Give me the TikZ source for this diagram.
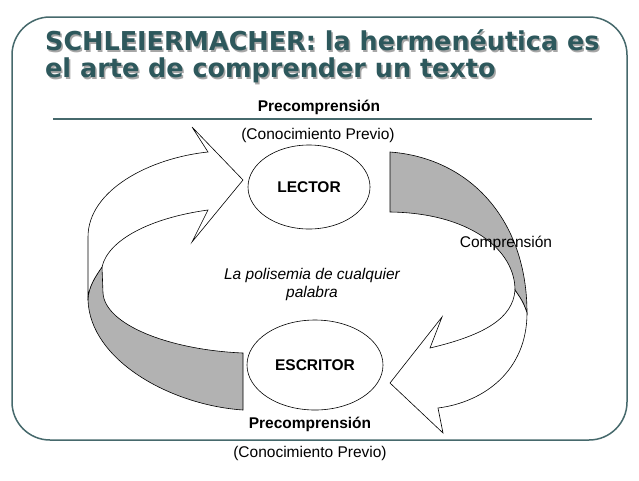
\documentclass[tikz,border=0pt]{standalone}
\usepackage{fontspec}
\usetikzlibrary{shapes.geometric}
\setmainfont{Liberation Sans}
\newfontfamily\titlefont{DejaVu Sans}
\definecolor{teal1}{RGB}{45,88,92}
\definecolor{frame1}{RGB}{70,105,108}
\definecolor{band}{RGB}{178,178,178}
\begin{document}
\begin{tikzpicture}[x=1pt,y=-1pt,
  ttl/.style={font=\titlefont\bfseries\fontsize{26}{30}\selectfont, anchor=west, inner sep=0},
  lbl/.style={font=\fontsize{15.5}{18}\selectfont, inner sep=1pt},
  ell/.style={draw, ellipse, line width=0.6pt, inner sep=0, font=\bfseries\fontsize{15.5}{18}\selectfont},
  rib/.style={draw, line width=0.6pt, line join=miter}]
\useasboundingbox (0,0) rectangle (639,480);
\fill[white] (0,0) rectangle (639,480);
\draw[frame1, line width=1.5pt, rounded corners=38pt] (12,17) rectangle (627,440);
% title
\node[ttl, gray!70, xscale=0.98] (t1s) at (46.5,42) {SCHLEIERMACHER: la hermenéutica es};
\node[ttl, teal1, xscale=0.98] (t1) at (45,40.5) {SCHLEIERMACHER: la hermenéutica es};
\node[ttl, gray!70, xscale=0.98] (t2s) at (46.5,72) {el arte de comprender un texto};
\node[ttl, teal1, xscale=0.98] (t2) at (45,70.5) {el arte de comprender un texto};
\node[lbl, font=\bfseries\fontsize{15.5}{18}\selectfont] (pre1) at (319,107) {Precomprensión};
\draw[frame1, line width=1.5pt] (53,119) -- (592,119);
\node[lbl] (con1) at (318,135) {(Conocimiento Previo)};
% left ribbon
\draw[rib, fill=band] (102,267) .. controls (95,277) and (88,288) .. (88,300)
  .. controls (90,360) and (170,405) .. (243,410) -- (243,353)
  .. controls (170,350) and (105,325) .. (103,293) -- cycle;
\draw[rib, fill=white] (88,300) -- (88,237) .. controls (88,190) and (150,158) .. (208,152)
  -- (192,127) -- (243,180) -- (192,242) -- (208,210)
  .. controls (150,218) and (108,240) .. (102,267)
  .. controls (95,277) and (88,288) .. (88,300) -- cycle;
% right ribbon
\draw[rib, fill=band] (390,152) .. controls (470,158) and (527,220) .. (527,313)
  .. controls (523,300) and (518,295) .. (515,290)
  .. controls (515,250) and (470,213) .. (390,212) -- cycle;
\draw[rib, fill=white] (515,290) .. controls (518,295) and (523,300) .. (527,313)
  .. controls (527,370) and (485,402) .. (438,408) -- (443,433) -- (390,383)
  -- (442,317) -- (430,348) .. controls (485,335) and (513,318) .. (515,290) -- cycle;
\node[ell, minimum width=122pt, minimum height=84pt, fill=white] (lector) at (309,187) {LECTOR};
\node[ell, minimum width=136pt, minimum height=90pt, fill=white] (escritor) at (315,365) {ESCRITOR};
\node[lbl] (comp) at (506,243) {Comprensión};
\node[lbl, font=\itshape\fontsize{15.5}{18}\selectfont, align=center] (pol) at (312,284) {La polisemia de cualquier\\palabra};
\node[lbl, font=\bfseries\fontsize{15.5}{18}\selectfont] (pre2) at (310,424) {Precomprensión};
\node[lbl] (con2) at (310,453) {(Conocimiento Previo)};
\end{tikzpicture}
\end{document}
